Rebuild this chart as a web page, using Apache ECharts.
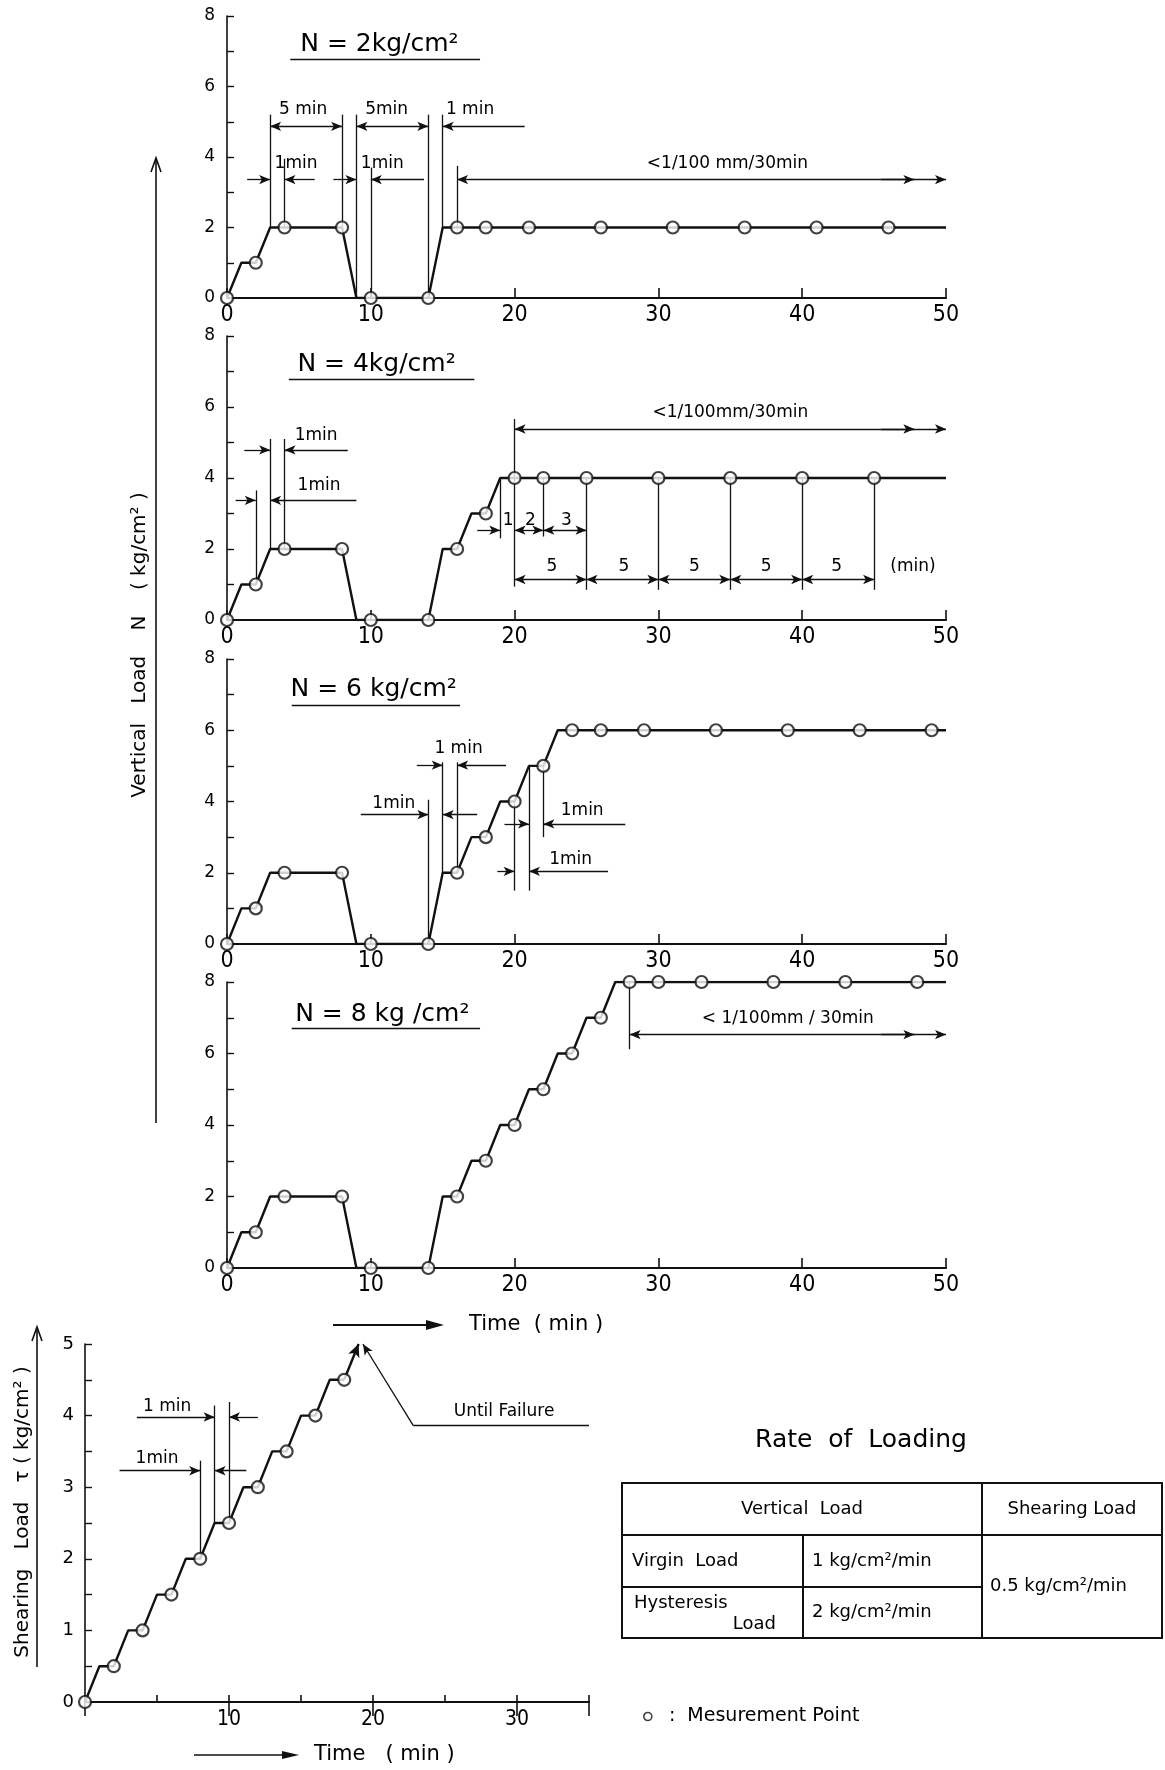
<!DOCTYPE html>
<html>
<head>
<meta charset="utf-8">
<script src="https://cdn.jsdelivr.net/npm/echarts@6/dist/echarts.min.js"></script>
<style>
  html, body { margin: 0; padding: 0; background: #fff; }
  #chart { width: 1165px; height: 1770px; }
</style>
</head>
<body>
<div id="chart"></div>
<script>
// ---- Loading histories: vertical load N (kg/cm²) against time (min) ----
// N = 2 kg/cm²
const path2 = [[0,0],[1,1],[2,1],[3,2],[8,2],[9,0],[14,0],[15,2],[50,2]];
const points2 = [[0,0],[2,1],[4,2],[8,2],[10,0],[14,0],[16,2],[18,2],[21,2],[26,2],[31,2],[36,2],[41,2],[46,2]];
// N = 4 kg/cm²
const path4 = [[0,0],[1,1],[2,1],[3,2],[8,2],[9,0],[14,0],[15,2],[16,2],[17,3],[18,3],[19,4],[50,4]];
const points4 = [[0,0],[2,1],[4,2],[8,2],[10,0],[14,0],[16,2],[18,3],[20,4],[22,4],[25,4],[30,4],[35,4],[40,4],[45,4]];
// N = 6 kg/cm²
const path6 = [[0,0],[1,1],[2,1],[3,2],[8,2],[9,0],[14,0],[15,2],[16,2],[17,3],[18,3],[19,4],[20,4],[21,5],[22,5],[23,6],[50,6]];
const points6 = [[0,0],[2,1],[4,2],[8,2],[10,0],[14,0],[16,2],[18,3],[20,4],[22,5],[24,6],[26,6],[29,6],[34,6],[39,6],[44,6],[49,6]];
// N = 8 kg/cm²
const path8 = [[0,0],[1,1],[2,1],[3,2],[8,2],[9,0],[14,0],[15,2],[16,2],[17,3],[18,3],[19,4],[20,4],[21,5],[22,5],[23,6],[24,6],[25,7],[26,7],[27,8],[50,8]];
const points8 = [[0,0],[2,1],[4,2],[8,2],[10,0],[14,0],[16,2],[18,3],[20,4],[22,5],[24,6],[26,7],[28,8],[30,8],[33,8],[38,8],[43,8],[48,8]];
// Shearing load τ (kg/cm²) against time (min), loaded until failure
const pathS = [[0,0],[1,0.5],[2,0.5],[3,1],[4,1],[5,1.5],[6,1.5],[7,2],[8,2],[9,2.5],[10,2.5],[11,3],[12,3],[13,3.5],[14,3.5],[15,4],[16,4],[17,4.5],[18,4.5]];
const pointsS = [[0,0],[2,0.5],[4,1],[6,1.5],[8,2],[10,2.5],[12,3],[14,3.5],[16,4],[18,4.5]];
const failureArrow = [[18,4.5,19,5]];

// ---- Dimension marks, in axis units: [t1, v1, t2, v2] ----
const leaders2 = [[3,2,3,5.2],[8,2,8,5.2],[9,0,9,5.2],[14,0,14,5.2],[15,2,15,5.2],[4,2,4,3.95],[10,0,10,3.7],[16,2,16,3.75],[4.4,6.77,17.6,6.77]];
const oneWay2 = [[20.7,4.87,15,4.87],[1.4,3.36,3,3.36],[6.1,3.36,4,3.36],[7.4,3.36,9,3.36],[13.7,3.36,10,3.36],[45.5,3.36,47.8,3.36]];
const twoWay2 = [[3,4.87,8,4.87],[9,4.87,14,4.87],[16,3.36,50,3.36]];
const notes2 = [[5.3,5.35,'5 min'],[11.1,5.35,'5min'],[16.9,5.35,'1 min'],[4.8,3.8,'1min'],[10.8,3.8,'1min'],[34.8,3.8,'<1/100 mm/30min']];
const title2 = [10.6,7.2,'N = 2kg/cm²'];

const leaders4 = [[2,1,2,3.65],[3,2,3,5.1],[4,2,4,5.1],[19,4,19,2.3],[20,5.66,20,0.94],[22,4,22,2.35],[25,4,25,0.85],[30,4,30,0.85],[35,4,35,0.85],[40,4,40,0.85],[45,4,45,0.85],[4.3,6.78,17.2,6.78]];
const oneWay4 = [[1.2,4.79,3,4.79],[8.4,4.79,4,4.79],[0.6,3.37,2,3.37],[9,3.37,3,3.37],[17.4,2.53,19,2.53],[45.5,5.38,47.8,5.38]];
const twoWay4 = [[20,2.53,22,2.53],[22,2.53,25,2.53],[20,1.14,25,1.14],[25,1.14,30,1.14],[30,1.14,35,1.14],[35,1.14,40,1.14],[40,1.14,45,1.14],[20,5.38,50,5.38]];
const notes4 = [[6.2,5.2,'1min'],[6.4,3.8,'1min'],[35,5.85,'<1/100mm/30min'],[19.55,2.8,'1'],[21.1,2.8,'2'],[23.6,2.8,'3'],[22.6,1.5,'5'],[27.6,1.5,'5'],[32.5,1.5,'5'],[37.5,1.5,'5'],[42.4,1.5,'5'],[47.7,1.5,'(min)']];
const title4 = [10.4,7.2,'N = 4kg/cm²'];

const leaders6 = [[14,0,14,4.05],[15,2,15,5.1],[16,2,16,5.1],[20,4,20,1.5],[21,5,21,1.5],[22,5,22,3.0],[4.5,6.7,16.2,6.7]];
const oneWay6 = [[13.2,5.02,15,5.02],[19.4,5.02,16,5.02],[9.3,3.63,14,3.63],[17.4,3.63,15,3.63],[19.3,3.37,21,3.37],[27.7,3.37,22,3.37],[18.8,2.04,20,2.04],[26.5,2.04,21,2.04]];
const twoWay6 = [];
const notes6 = [[16.1,5.48,'1 min'],[11.6,3.95,'1min'],[24.7,3.74,'1min'],[23.9,2.38,'1min']];
const title6 = [10.2,7.15,'N = 6 kg/cm²'];

const leaders8 = [[28,8,28,6.12],[4.5,6.72,17.6,6.72]];
const oneWay8 = [[45.5,6.53,47.8,6.53]];
const twoWay8 = [[28,6.53,50,6.53]];
const notes8 = [[39,6.98,'< 1/100mm / 30min']];
const title8 = [10.8,7.1,'N = 8 kg /cm²'];

const leadersS = [[9,2.5,9,4.14],[10,2.5,10,4.19],[8,2,8,3.37],[22.8,3.86,35,3.86]];
const oneWayS = [[3.6,3.98,9,3.98],[12,3.98,10,3.98],[2.4,3.23,8,3.23],[11.2,3.23,9,3.23],[22.8,3.86,19.3,5.0]];
const notesS = [[5.7,4.13,'1 min'],[5.0,3.4,'1min'],[29.1,4.05,'Until Failure']];

// Axis ticks
const timeTicksN = { min: 0, max: 50, step: 10 };
const loadTicksN = { min: 0, max: 8, step: 1 };
const timeTicksS = { min: 0, max: 35, step: 5, major: 10 };
const loadTicksS = { min: 0, max: 5, step: 0.5 };

// Rate-of-loading table
const tableHead = ['Vertical  Load', 'Shearing Load'];
const tableRows = [['Virgin  Load', '1 kg/cm²/min'], ['Hysteresis', '2 kg/cm²/min']];
const shearRate = '0.5 kg/cm²/min';

// ---- Styling ----
const INK = '#000';
const FONT = '"DejaVu Sans", "Liberation Sans", sans-serif';
const NARROW = '"Liberation Sans Narrow", "DejaVu Sans Condensed", "Liberation Sans", sans-serif';

const panels = [
  { path: path2, points: points2, leaders: leaders2, oneWay: oneWay2, twoWay: twoWay2, notes: notes2, title: title2, box: { top: 16, height: 282 } },
  { path: path4, points: points4, leaders: leaders4, oneWay: oneWay4, twoWay: twoWay4, notes: notes4, title: title4, box: { top: 336, height: 284 } },
  { path: path6, points: points6, leaders: leaders6, oneWay: oneWay6, twoWay: twoWay6, notes: notes6, title: title6, box: { top: 659, height: 285 } },
  { path: path8, points: points8, leaders: leaders8, oneWay: oneWay8, twoWay: twoWay8, notes: notes8, title: title8, box: { top: 982, height: 286 } }
];

function dimensionMarks(leaders, oneWay, twoWay, extra) {
  const data = [];
  leaders.forEach(([a, b, c, d]) => data.push([{ coord: [a, b], symbol: 'none' }, { coord: [c, d], symbol: 'none' }]));
  oneWay.forEach(([a, b, c, d]) => data.push([{ coord: [a, b], symbol: 'none' }, { coord: [c, d], symbol: 'arrow' }]));
  twoWay.forEach(([a, b, c, d]) => data.push([{ coord: [a, b], symbol: 'arrow' }, { coord: [c, d], symbol: 'arrow' }]));
  (extra || []).forEach(([a, b, c, d]) => data.push([
    { coord: [a, b], symbol: 'none', lineStyle: { width: 2.4 } },
    { coord: [c, d], symbol: 'arrow', symbolSize: [9, 13] }
  ]));
  return {
    silent: true,
    animation: false,
    symbolSize: [7, 11],
    label: { show: false },
    lineStyle: { color: '#111', width: 1.3, type: 'solid' },
    emphasis: { disabled: true },
    data
  };
}

function noteSeries(idx, notes, title) {
  const data = notes.map(([t, v, text]) => ({ value: [t, v], name: text }));
  if (title) {
    data.push({ value: [title[0], title[1]], name: title[2], label: { fontSize: 25 } });
  }
  return {
    type: 'scatter', xAxisIndex: idx, yAxisIndex: idx, silent: true, clip: false,
    symbol: 'circle', symbolSize: 0.1, itemStyle: { color: 'rgba(0,0,0,0)' },
    label: {
      show: true, position: 'inside', formatter: '{b}', color: INK, opacity: 1,
      textBorderWidth: 0, fontFamily: FONT, fontSize: 17, align: 'center', verticalAlign: 'middle'
    },
    data, z: 6
  };
}

function pointSeries(idx, pts) {
  return {
    name: 'Mesurement Point', type: 'scatter', xAxisIndex: idx, yAxisIndex: idx, silent: true,
    symbol: 'circle', symbolSize: 12,
    itemStyle: { color: '#fff', borderColor: '#111', borderWidth: 2.2 },
    data: pts, z: 5
  };
}

function pathSeries(idx, path, marks) {
  return {
    type: 'line', xAxisIndex: idx, yAxisIndex: idx, silent: true,
    showSymbol: false, symbol: 'none',
    lineStyle: { color: '#111', width: 2.4 },
    data: path, markLine: marks, z: 3
  };
}

const grid = [], xAxis = [], yAxis = [], series = [];

panels.forEach((p, i) => {
  grid.push({ left: 227, width: 719, top: p.box.top, height: p.box.height });
  xAxis.push({
    gridIndex: i, type: 'value', min: timeTicksN.min, max: timeTicksN.max, interval: timeTicksN.step,
    axisLine: { onZero: false, lineStyle: { color: '#111', width: 2.2 } },
    axisTick: { inside: true, length: 10, lineStyle: { color: '#111', width: 1.6 } },
    axisLabel: { color: INK, fontFamily: NARROW, fontSize: 23, margin: 6 },
    splitLine: { show: false }
  });
  yAxis.push({
    gridIndex: i, type: 'value', min: loadTicksN.min, max: loadTicksN.max, interval: loadTicksN.step,
    axisLine: { onZero: false, lineStyle: { color: '#111', width: 1.6 } },
    axisTick: { inside: true, length: 7, lineStyle: { color: '#111', width: 1.4 } },
    axisLabel: { color: INK, fontFamily: FONT, fontSize: 17, margin: 12, formatter: v => (v % 2 === 0 ? String(v) : '') },
    splitLine: { show: false }
  });
  series.push(pathSeries(i, p.path, dimensionMarks(p.leaders, p.oneWay, p.twoWay)));
  series.push(pointSeries(i, p.points));
  series.push(noteSeries(i, p.notes, p.title));
});

// Shearing-load panel (grid 4); xAxis 5 overlays the taller 10-minute ticks
grid.push({ left: 85, width: 504, top: 1344, height: 358 });
xAxis.push({
  gridIndex: 4, type: 'value', min: timeTicksS.min, max: timeTicksS.max, interval: timeTicksS.step,
  axisLine: { onZero: false, lineStyle: { color: '#111', width: 2.2 } },
  axisTick: { inside: true, length: 7, lineStyle: { color: '#111', width: 1.6 } },
  axisLabel: { color: INK, fontFamily: NARROW, fontSize: 21, margin: 7,
    formatter: v => (v > 0 && v < timeTicksS.max && v % timeTicksS.major === 0 ? String(v) : '') },
  splitLine: { show: false }
});
xAxis.push({
  gridIndex: 4, type: 'value', min: timeTicksS.min, max: timeTicksS.max, interval: timeTicksS.major,
  axisLine: { show: false },
  axisTick: { inside: true, length: 14, lineStyle: { color: '#111', width: 1.6 } },
  axisLabel: { show: false }, splitLine: { show: false }
});
yAxis.push({
  gridIndex: 4, type: 'value', min: loadTicksS.min, max: loadTicksS.max, interval: loadTicksS.step,
  axisLine: { onZero: false, lineStyle: { color: '#111', width: 1.6 } },
  axisTick: { inside: true, length: 7, lineStyle: { color: '#111', width: 1.4 } },
  axisLabel: { color: INK, fontFamily: FONT, fontSize: 18, margin: 11, formatter: v => (Number.isInteger(v) ? String(v) : '') },
  splitLine: { show: false }
});
series.push(pathSeries(4, pathS, dimensionMarks(leadersS, oneWayS, [], failureArrow)));
series.push(pointSeries(4, pointsS));
series.push(noteSeries(4, notesS, null));

// ---- Axis names, time arrows and the rate-of-loading table ----
const txt = (x, y, text, size, align, extra) => Object.assign({
  type: 'text', x, y, silent: true,
  style: { text, fill: INK, font: `${size}px ${FONT}`, textAlign: align || 'left', textVerticalAlign: 'middle' }
}, extra || {});
const seg = (x1, y1, x2, y2, w) => ({ type: 'line', silent: true, shape: { x1, y1, x2, y2 }, style: { stroke: '#111', lineWidth: w || 1.6 } });
const head = (pts) => ({ type: 'polygon', silent: true, shape: { points: pts }, style: { fill: '#111' } });
const openHead = (pts) => ({ type: 'polyline', silent: true, shape: { points: pts }, style: { stroke: '#111', lineWidth: 1.6, fill: null } });

const TL = 622, TR = 1162, TT = 1483, TH = 1535, TM = 1587, TB = 1638, C1 = 803, C2 = 982;

const graphic = [
  // vertical-load axis name and arrow
  txt(140, 645, 'Vertical   Load    N    ( kg/cm² )', 20, 'center', { rotation: Math.PI / 2 }),
  seg(156, 1123, 156, 158),
  openHead([[151, 172], [156, 158], [161, 172]]),
  // shearing-load axis name and arrow
  txt(23, 1512, 'Shearing   Load   τ ( kg/cm² )', 20, 'center', { rotation: Math.PI / 2 }),
  seg(37, 1667, 37, 1327),
  openHead([[32, 1341], [37, 1327], [42, 1341]]),
  // time arrows
  seg(333, 1325, 428, 1325, 1.8), head([[444, 1325], [426, 1320], [426, 1330]]),
  txt(469, 1325, 'Time  ( min )', 21, 'left'),
  seg(194, 1755, 284, 1755, 1.6), head([[299, 1755], [282, 1751], [282, 1759]]),
  txt(314, 1755, 'Time   ( min )', 21, 'left'),
  // table
  txt(861, 1440, 'Rate  of  Loading', 25, 'center'),
  { type: 'rect', silent: true, shape: { x: TL, y: TT, width: TR - TL, height: TB - TT }, style: { fill: null, stroke: '#111', lineWidth: 2 } },
  seg(TL, TH, TR, TH, 2), seg(TL, TM, C2, TM, 2), seg(C1, TH, C1, TB, 2), seg(C2, TT, C2, TB, 2),
  txt((TL + C2) / 2, (TT + TH) / 2, tableHead[0], 18, 'center'),
  txt((C2 + TR) / 2, (TT + TH) / 2, tableHead[1], 18, 'center'),
  txt(632, (TH + TM) / 2, tableRows[0][0], 18, 'left'),
  txt(812, (TH + TM) / 2, tableRows[0][1], 18, 'left'),
  txt(634, 1603, tableRows[1][0], 18, 'left'),
  txt(776, 1624, 'Load', 18, 'right'),
  txt(812, (TM + TB) / 2, tableRows[1][1], 18, 'left'),
  txt(990, (TH + TB) / 2, shearRate, 18, 'left')
];

const chart = echarts.init(document.getElementById('chart'), null, { renderer: 'canvas' });
chart.setOption({
  backgroundColor: '#fff',
  animation: false,
  grid, xAxis, yAxis, series, graphic,
  legend: {
    left: 638, top: 1702, icon: 'circle', itemWidth: 8, itemHeight: 8, selectedMode: false,
    data: ['Mesurement Point'], formatter: '  :  {name}',
    itemStyle: { color: '#fff', borderColor: '#111', borderWidth: 1.6 },
    textStyle: { fontFamily: FONT, fontSize: 19, color: INK }
  }
});
</script>
</body>
</html>
